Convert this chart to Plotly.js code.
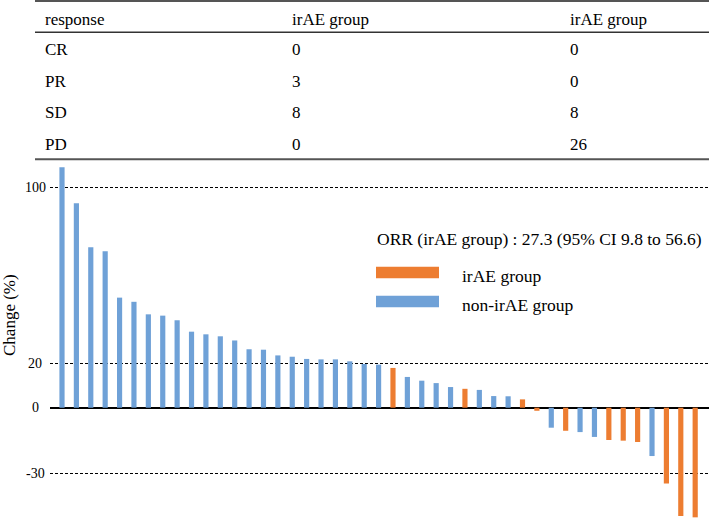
<!DOCTYPE html>
<html>
<head>
<meta charset="utf-8">
<script src="https://cdn.plot.ly/plotly-3.0.1.min.js"></script>
<style>html,body{margin:0;padding:0;background:#fff;}#chart{width:709px;height:518px;}</style>
</head>
<body>
<div id="chart"></div>
<script>
// ---- data ----
const patients = [1,2,3,4,5,6,7,8,9,10,11,12,13,14,15,16,17,18,19,20,21,22,23,24,25,26,27,28,29,30,31,32,33,34,35,36,37,38,39,40,41,42,43,44,45];
const changes = [109.4,93.0,73.0,71.2,50.1,48.2,42.5,41.9,39.8,34.6,33.4,32.5,30.6,26.6,26.4,23.8,23.2,22.2,22.0,22.0,21.1,19.9,19.6,18.1,14.0,12.3,11.2,9.4,8.6,8.1,5.3,5.2,3.8,-1.4,-9.1,-10.5,-11.1,-13.3,-14.7,-15.0,-15.6,-22.0,-34.5,-49.3,-49.9];
const groups = ['non','non','non','non','non','non','non','non','non','non','non','non','non','non','non','non','non','non','non','non','non','non','non','irAE','non','non','non','non','irAE','non','non','non','irAE','irAE','non','irAE','non','non','irAE','irAE','irAE','non','irAE','irAE','irAE'];
const yTicks = [100, 20, 0, -30];
const yTickText = ['100', '20', '0', '-30'];
const tableHeader = ['response', 'irAE group', 'irAE group'];
const responses = ['CR', 'PR', 'SD', 'PD'];
const iraeCounts = [0, 3, 8, 0];
const nonIraeCounts = [0, 0, 8, 26];
const legendLabels = ['irAE group', 'non-irAE group'];
const ornText = 'ORR (irAE group) : 27.3 (95% CI 9.8 to 56.6)';

// ---- styles ----
const ORANGE = '#ED7D31';
const BLUE = '#6FA1D7';
const FONT = 'Liberation Serif';
const W = 709, H = 518;
const M = {l: 50, r: 0, t: 160, b: 0};
const px = x => (x - M.l) / (W - M.l - M.r);
const py = y => (H - M.b - y) / (H - M.t - M.b);

const colorOf = g => g === 'irAE' ? ORANGE : BLUE;

const trace = {
  type: 'bar',
  x: patients,
  y: changes,
  width: 0.36,
  marker: {color: groups.map(colorOf), line: {width: 0}},
  showlegend: false,
  hoverinfo: 'x+y'
};

const annotations = [];
const shapes = [];

// y tick labels
yTicks.forEach((v, i) => {
  annotations.push({xref: 'paper', yref: 'y', x: px(35), y: v, text: yTickText[i],
    showarrow: false, xanchor: 'center', yanchor: 'middle',
    font: {family: FONT, size: 14, color: '#000'}});
});

// y axis title
annotations.push({xref: 'paper', yref: 'paper', x: px(9), y: py(315), text: 'Change (%)',
  textangle: -90, showarrow: false, xanchor: 'center', yanchor: 'middle',
  font: {family: FONT, size: 17, color: '#000'}});

// table
const colX = [43, 290, 568];
const headerY = 19;
const rowY = [50, 81.3, 112.7, 144];
tableHeader.forEach((t, i) => {
  annotations.push({xref: 'paper', yref: 'paper', x: px(colX[i]), y: py(headerY), text: t,
    showarrow: false, xanchor: 'left', yanchor: 'middle',
    font: {family: FONT, size: 17, color: '#000'}});
});
responses.forEach((r, j) => {
  const row = [r, String(iraeCounts[j]), String(nonIraeCounts[j])];
  row.forEach((t, i) => {
    annotations.push({xref: 'paper', yref: 'paper', x: px(colX[i]), y: py(rowY[j]), text: t,
      showarrow: false, xanchor: 'left', yanchor: 'middle',
      font: {family: FONT, size: 17, color: '#000'}});
  });
});
shapes.push({type: 'line', xref: 'paper', yref: 'paper', x0: px(35), x1: px(709), y0: py(1), y1: py(1), line: {color: '#555', width: 2}});
shapes.push({type: 'line', xref: 'paper', yref: 'paper', x0: px(35), x1: px(709), y0: py(32.3), y1: py(32.3), line: {color: '#333', width: 1.5}});
shapes.push({type: 'line', xref: 'paper', yref: 'paper', x0: px(35), x1: px(709), y0: py(159.3), y1: py(159.3), line: {color: '#555', width: 2}});

// legend (drawn manually)
annotations.push({xref: 'paper', yref: 'paper', x: px(375), y: py(239), text: ornText,
  showarrow: false, xanchor: 'left', yanchor: 'middle',
  font: {family: FONT, size: 17.5, color: '#000'}});
const legColors = [ORANGE, BLUE];
const legY = [272.5, 301.5];
legendLabels.forEach((t, i) => {
  shapes.push({type: 'rect', xref: 'paper', yref: 'paper', x0: px(376), x1: px(439),
    y0: py(legY[i] - 5.8), y1: py(legY[i] + 5.8), fillcolor: legColors[i], line: {width: 0}});
  annotations.push({xref: 'paper', yref: 'paper', x: px(460), y: py(legY[i] + 3), text: t,
    showarrow: false, xanchor: 'left', yanchor: 'middle',
    font: {family: FONT, size: 17.5, color: '#000'}});
});

const layout = {
  width: W, height: H,
  margin: M,
  paper_bgcolor: '#fff', plot_bgcolor: '#fff',
  showlegend: false,
  font: {family: FONT},
  xaxis: {range: [0.166, 45.96], showticklabels: false, showgrid: false, zeroline: false, showline: false, ticks: ''},
  yaxis: {range: [-50.2, 112.74], tickvals: yTicks, showticklabels: false, ticks: '',
    showgrid: true, gridcolor: '#000', gridwidth: 1, griddash: '3px,2px',
    zeroline: true, zerolinecolor: '#000', zerolinewidth: 2, showline: false},
  annotations: annotations,
  shapes: shapes
};

Plotly.newPlot('chart', [trace], layout, {displayModeBar: false, staticPlot: true});
</script>
</body>
</html>
